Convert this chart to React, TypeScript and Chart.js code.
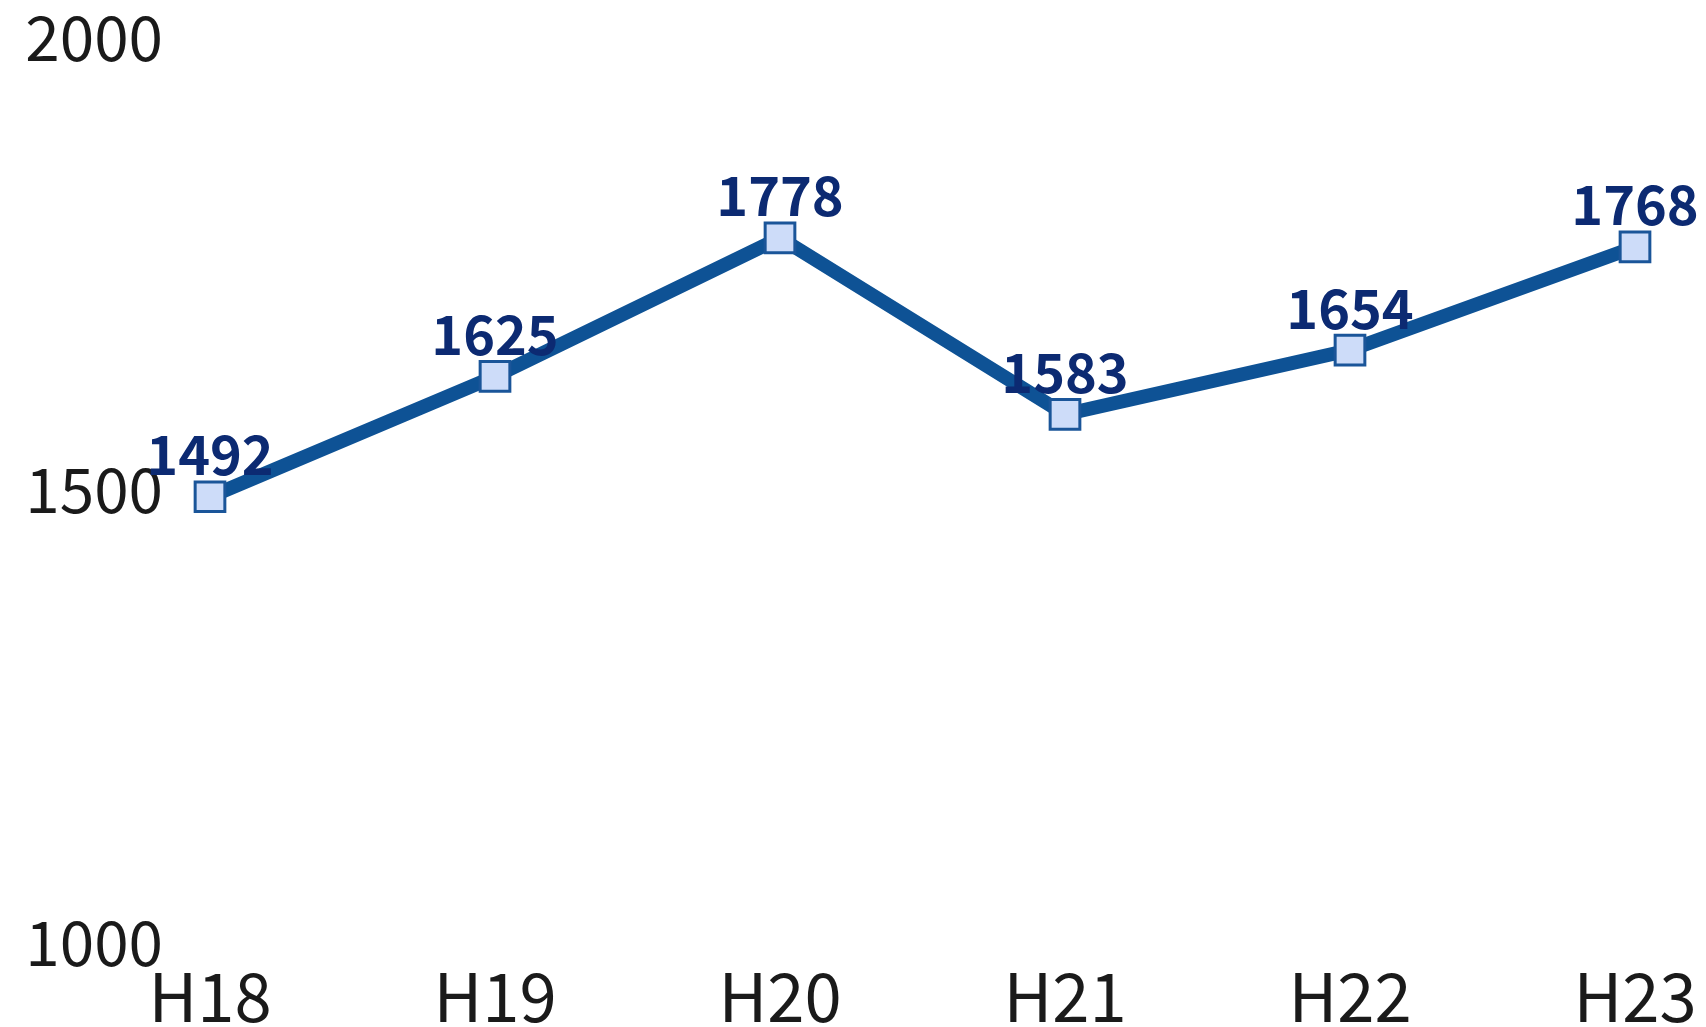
import React, { useEffect, useRef } from "react";
import { Chart, registerables } from "chart.js";

Chart.register(...registerables);

const categories = ["H18", "H19", "H20", "H21", "H22", "H23"];
const values = [1492, 1625, 1778, 1583, 1654, 1768];
const yTicks = [1000, 1500, 2000];

const FONT = "'Noto Sans CJK JP', 'Noto Sans', sans-serif";

const valueLabels = {
  id: "valueLabels",
  afterDatasetsDraw(chart: any) {
    const ctx = chart.ctx;
    const meta = chart.getDatasetMeta(0);
    ctx.save();
    ctx.font = `bold 54px ${FONT}`;
    ctx.fillStyle = "#0c2a72";
    ctx.textAlign = "center";
    ctx.textBaseline = "middle";
    meta.data.forEach((pt: any, i: number) => {
      ctx.fillText(String(values[i]), pt.x, pt.y - 42);
    });
    ctx.restore();
  },
};

export default function App() {
  const ref = useRef<HTMLCanvasElement>(null);
  useEffect(() => {
    document.body.style.margin = "0";
    const chart = new Chart(ref.current!, {
      type: "line",
      data: {
        labels: categories,
        datasets: [
          {
            data: values,
            borderColor: "#0e5295",
            borderWidth: 14,
            pointStyle: "rect",
            pointRadius: 21,
            pointBorderWidth: 3,
            pointBackgroundColor: "#cddcf9",
            pointBorderColor: "#1a5599",
            tension: 0,
          },
        ],
      },
      options: {
        animation: false,
        responsive: false,
        layout: { padding: { top: 37, right: 71, left: 0, bottom: 0 } },
        plugins: { legend: { display: false }, tooltip: { enabled: false } },
        scales: {
          x: {
            offset: false,
            grid: { display: false, drawTicks: false },
            border: { display: false },
            ticks: {
              font: { family: FONT, size: 67 },
              color: "#1a1a1a",
              padding: 14,
              maxRotation: 0,
            },
            afterFit: (s: any) => {
              s.height = 85;
              s.paddingLeft = 0;
              s.paddingRight = 0;
            },
          },
          y: {
            min: 1000,
            max: 2000,
            grid: { display: false, drawTicks: false },
            border: { display: false },
            afterBuildTicks: (s: any) => {
              s.ticks = yTicks.map((v) => ({ value: v }));
            },
            ticks: {
              font: { family: FONT, size: 62 },
              color: "#1a1a1a",
              padding: 47,
              callback: (v: any) => String(v),
            },
            afterFit: (s: any) => {
              s.width = 210;
              s.paddingTop = 0;
              s.paddingBottom = 0;
            },
          },
        },
      },
      plugins: [valueLabels],
    });
    return () => chart.destroy();
  }, []);
  return <canvas ref={ref} width={1706} height={1027} style={{ display: "block" }} />;
}
